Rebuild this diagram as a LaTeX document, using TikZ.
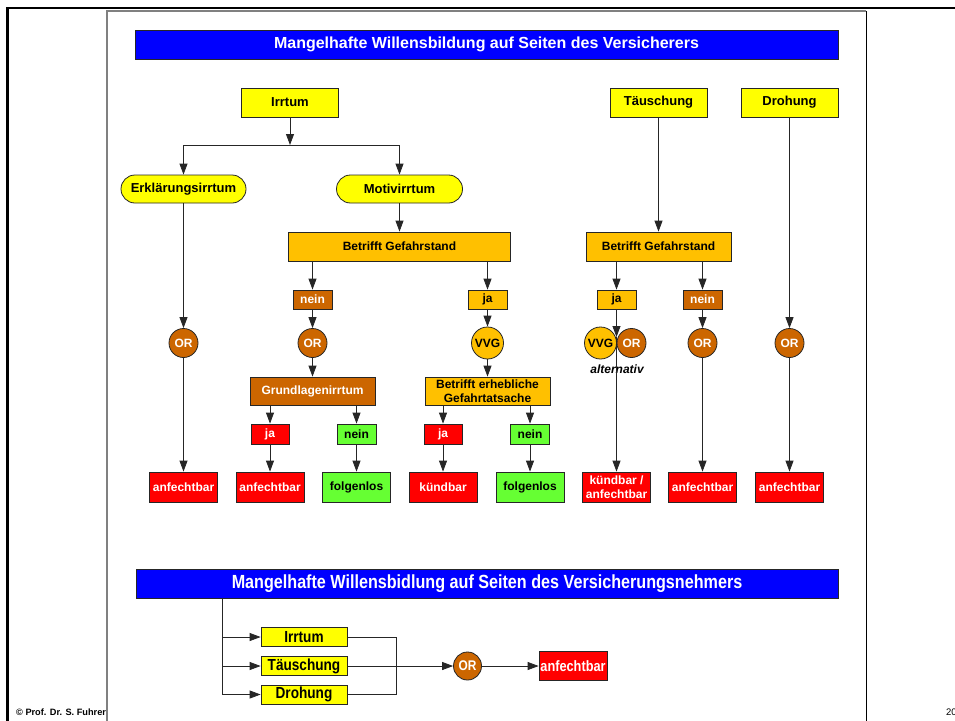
\documentclass[tikz,border=0pt]{standalone}
\usepackage{fontspec}
\setmainfont{Liberation Sans}
\newfontfamily\schmal[FakeStretch=0.85]{Liberation Sans}
\usepackage{tikz}
\usetikzlibrary{arrows.meta}
\definecolor{gelb}{RGB}{255,255,0}
\definecolor{orangeg}{RGB}{255,192,0}
\definecolor{braun}{RGB}{204,102,0}
\definecolor{rot}{RGB}{255,0,0}
\definecolor{gruen}{RGB}{102,255,51}
\definecolor{blau}{RGB}{0,0,255}
\tikzset{
  box/.style={draw=black!85, line width=0.8pt, inner sep=1pt, font=\bfseries\fontsize{12}{14}\selectfont},
  gelbbox/.style={box, fill=gelb, font=\bfseries\fontsize{13}{15}\selectfont},
  orangebox/.style={box, fill=orangeg},
  braunbox/.style={box, fill=braun, text=white},
  rotbox/.style={box, fill=rot, text=white},
  gruenbox/.style={box, fill=gruen},
  rundbox/.style={gelbbox, rounded corners=14pt},
  orkreis/.style={box, circle, fill=braun, text=white, minimum size=29pt, inner sep=0pt},
  vvgkreis/.style={box, circle, fill=orangeg, minimum size=32pt, inner sep=0pt},
  titelbox/.style={box, fill=blau, text=white, font=\bfseries\fontsize{16}{18}\selectfont},
  schmalbox/.style={box, inner sep=0pt, font=\schmal\bfseries\fontsize{16}{18}\selectfont},
  zweizeilig/.style={align=center},
  pfeil/.style={-{Triangle[length=11pt,width=8pt]}, line width=0.8pt, black!85},
  linie/.style={line width=0.8pt, black!85}
}
\newcommand{\kasten}[7]{\node[#1, minimum width=#5pt, minimum height=#6pt] (#2) at ( #3 , #4 ) {#7};}
\newcommand{\kreis}[5]{\node[#1] (#2) at ( #3 , #4 ) {#5};}
\newcommand{\pfeil}[2]{\draw[pfeil] (#1) -- (#2);}

\begin{document}
\begin{tikzpicture}[x=1pt,y=-1pt]
        \useasboundingbox (0,0) rectangle (955,720);
        % rahmen
        \node[anchor=west, font=\bfseries\fontsize{9.2}{11}\selectfont, inner sep=0pt] (copy) at (16,712) {© Prof. Dr. S. Fuhrer};
        \node[anchor=west, font=\fontsize{9.5}{11}\selectfont, inner sep=0pt] (seite) at (946,712) {20};
        \fill[white] (107,11) rectangle (866,722);
        \draw[line width=2.5pt] (7.5,722) -- (7.5,8) -- (957,8);
        \draw[gray, line width=1.2pt] (107,722) -- (107,11) -- (866,11);
        \draw[line width=1pt] (866,11) -- (866,722);

        % titel oben
        \kasten{titelbox}{titel1}{486.5}{44.5}{703}{29}{Mangelhafte Willensbildung auf Seiten des Versicherers}

        % zeile 1
        \kasten{gelbbox}{irrtum}{290}{102.5}{97}{29}{Irrtum}
        \kasten{gelbbox}{taeusch}{658.5}{102.5}{97}{29}{Täuschung}
        \kasten{gelbbox}{droh}{789.5}{102.5}{97}{29}{Drohung}

        % zeile 2
        \kasten{rundbox}{erkl}{183.5}{189}{125}{28}{Erklärungsirrtum}
        \kasten{rundbox}{motiv}{399.5}{189}{126}{28}{Motivirrtum}

        % gefahrstand
        \kasten{orangebox}{gef1}{399.5}{246.5}{222}{29}{Betrifft Gefahrstand}
        \kasten{orangebox}{gef2}{658.5}{246.5}{145}{29}{Betrifft Gefahrstand}

        % ja / nein zeile 1
        \kasten{braunbox}{nein1}{312.5}{299.5}{39}{19}{nein}
        \kasten{orangebox}{ja1}{487.5}{299.5}{39}{19}{ja}
        \kasten{orangebox}{ja2}{616.5}{299.5}{39}{19}{ja}
        \kasten{braunbox}{nein2}{702.5}{299.5}{39}{19}{nein}

        % kreise
        \kreis{orkreis}{or1}{183.5}{343}{OR}
        \kreis{orkreis}{or2}{312.5}{343}{OR}
        \kreis{vvgkreis}{vvg1}{487.5}{343}{VVG}
        \kreis{vvgkreis}{vvg2}{600.5}{343}{VVG}
        \kreis{orkreis}{or3}{631.5}{343}{OR}
        \kreis{orkreis}{or4}{702.5}{343}{OR}
        \kreis{orkreis}{or5}{789.5}{343}{OR}
        \node[font=\bfseries\itshape\fontsize{12}{14}\selectfont] (alttext) at (617,369) {alternativ};

        % grundlagen / erheblich
        \kasten{braunbox}{grund}{312.5}{391}{125}{28}{Grundlagenirrtum}
        \kasten{orangebox, zweizeilig}{erheb}{487.5}{391}{125}{28}{\fontsize{12}{14.5}\selectfont Betrifft erhebliche\\Gefahrtatsache}

        % ja / nein zeile 2
        \kasten{rotbox}{jaG}{270}{434}{38}{20}{ja}
        \kasten{gruenbox}{neinG}{356.5}{434}{39}{20}{nein}
        \kasten{rotbox}{jaE}{443}{434}{38}{20}{ja}
        \kasten{gruenbox}{neinE}{530}{434}{39}{20}{nein}

        % ergebnisse
        \kasten{rotbox}{anf1}{183.5}{487}{68}{30}{anfechtbar}
        \kasten{rotbox}{anf2}{270}{487}{68}{30}{anfechtbar}
        \kasten{gruenbox}{folg1}{356.5}{487}{68}{30}{folgenlos}
        \kasten{rotbox}{kuend}{443}{487}{68}{30}{kündbar}
        \kasten{gruenbox}{folg2}{530}{487}{68}{30}{folgenlos}
        \kasten{rotbox, zweizeilig}{kuendanf}{616.5}{487}{68}{30}{\fontsize{12}{13.5}\selectfont kündbar /\\anfechtbar}
        \kasten{rotbox}{anf3}{702.5}{487}{68}{30}{anfechtbar}
        \kasten{rotbox}{anf4}{789.5}{487}{68}{30}{anfechtbar}

        % pfeile irrtum
        \coordinate (irrM) at (290,145);
        \coordinate (irrL) at (183.5,145);
        \coordinate (irrR) at (399.5,145);
        \pfeil{irrtum}{irrM}
        \draw[linie] (irrL) -- (irrR);
        \pfeil{irrL}{erkl}
        \pfeil{irrR}{motiv}
        \pfeil{erkl}{or1}
        \pfeil{or1}{anf1}
        \pfeil{motiv}{gef1}
        \pfeil{gef1.south -| nein1}{nein1}
        \pfeil{gef1.south -| ja1}{ja1}
        \pfeil{nein1}{or2}
        \pfeil{or2}{grund}
        \pfeil{grund.south -| jaG}{jaG}
        \pfeil{grund.south -| neinG}{neinG}
        \pfeil{jaG}{anf2}
        \pfeil{neinG}{folg1}
        \pfeil{ja1}{vvg1}
        \pfeil{vvg1}{erheb}
        \pfeil{erheb.south -| jaE}{jaE}
        \pfeil{erheb.south -| neinE}{neinE}
        \pfeil{jaE}{kuend}
        \pfeil{neinE}{folg2}

        % pfeile taeuschung / drohung
        \coordinate (alt) at (616.5,337);
        \pfeil{taeusch}{gef2}
        \pfeil{gef2.south -| ja2}{ja2}
        \pfeil{gef2.south -| nein2}{nein2}
        \pfeil{ja2}{alt}
        \pfeil{alt}{kuendanf}
        \pfeil{nein2}{or4}
        \pfeil{or4}{anf3}
        \pfeil{droh}{or5}
        \pfeil{or5}{anf4}

        % versicherungsnehmer
        \kasten{titelbox}{titel2}{487}{583.5}{702}{29}{\schmal\fontsize{19}{21}\selectfont Mangelhafte Willensbidlung auf Seiten des Versicherungsnehmers}
        \kasten{gelbbox, schmalbox}{irrtum2}{304}{637}{86}{19}{Irrtum}
        \kasten{gelbbox, schmalbox}{taeusch2}{304}{666}{86}{19}{Täuschung}
        \kasten{gelbbox, schmalbox}{droh2}{304}{694.5}{86}{19}{Drohung}
        \kasten{orkreis}{or6}{467.5}{666}{28}{28}{\schmal\fontsize{14}{16}\selectfont OR}
        \kasten{rotbox}{anf5}{573}{666}{68}{29}{\schmal\fontsize{15}{17}\selectfont anfechtbar}

        \coordinate (vn1) at (222,637);
        \coordinate (vn2) at (222,666);
        \coordinate (vn3) at (222,694.5);
        \coordinate (sam) at (396,666);
        \draw[linie] (titel2.south -| vn3) -- (vn3);
        \pfeil{vn1}{irrtum2}
        \pfeil{vn2}{taeusch2}
        \pfeil{vn3}{droh2}
        \draw[linie] (irrtum2.east) -| (sam);
        \draw[linie] (droh2.east) -| (sam);
        \pfeil{taeusch2}{or6}
        \pfeil{or6}{anf5}
\end{tikzpicture}
\end{document}
